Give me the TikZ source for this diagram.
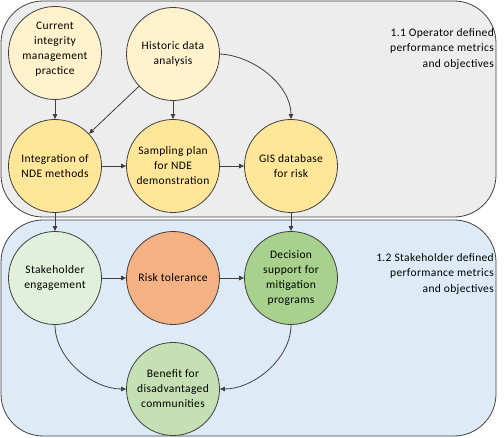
\documentclass[tikz,border=0pt]{standalone}
\usepackage{fontspec}
\setmainfont{Carlito}[LetterSpace=3]
\usetikzlibrary{arrows.meta}
\definecolor{regA}{HTML}{EDEDED}
\definecolor{regB}{HTML}{DEEBF7}
\definecolor{pale}{HTML}{FFF2CC}
\definecolor{gold}{HTML}{FFE699}
\definecolor{lgreen}{HTML}{E2EFDA}
\definecolor{orng}{HTML}{F4B183}
\definecolor{dgreen}{HTML}{A9D18E}
\definecolor{mgreen}{HTML}{C5E0B4}
\definecolor{edge}{HTML}{404040}
\begin{document}
\begin{tikzpicture}[x=1pt,y=1pt,
  circ/.style={circle,draw=edge,line width=0.8pt,minimum size=93pt,inner sep=0pt,align=center,font=\fontsize{11.5}{15}\selectfont},
  conn/.style={draw=edge,line width=0.8pt,-{Triangle[length=5pt,width=4.5pt]}},
  region/.style={draw=edge,line width=0.8pt,rounded corners=42pt},
  reglabel/.style={align=right,anchor=north east,inner sep=0pt,font=\fontsize{11.5}{15.5}\selectfont}]
\useasboundingbox (0,0) rectangle (504,-438);
\path[region,fill=regA] (1,-1) rectangle (496,-217);
\path[region,fill=regB] (1,-220) rectangle (496,-436);
\node[reglabel] (lab1) at (494,-28) {1.1 Operator defined\\performance metrics\\and objectives};
\node[reglabel] (lab2) at (494,-253) {1.2 Stakeholder defined\\performance metrics\\and objectives};
\node[circ,fill=pale] (cur) at (55,-53) {Current\\integrity\\management\\practice\\[-6pt]\mbox{}};
\node[circ,fill=pale] (hist) at (173,-54) {Historic data\\analysis};
\node[circ,fill=gold] (integ) at (55,-166) {Integration of\\NDE methods};
\node[circ,fill=gold] (samp) at (173,-166) {Sampling plan\\for NDE\\demonstration};
\node[circ,fill=gold] (gis) at (291,-166) {GIS database\\for risk};
\node[circ,fill=lgreen] (stake) at (55,-278) {Stakeholder\\engagement};
\node[circ,fill=orng] (risk) at (173,-278) {Risk tolerance};
\node[circ,fill=dgreen] (dec) at (291,-278) {Decision\\support for\\mitigation\\programs};
\node[circ,fill=mgreen] (ben) at (173,-389) {Benefit for\\disadvantaged\\communities};
\draw[conn] (cur) -- (integ);
\draw[conn] (hist) -- (integ);
\draw[conn] (hist) -- (samp);
\draw[conn] (hist.east) to[out=-3,in=90,looseness=0.9] (gis.north);
\draw[conn] (integ) -- (samp);
\draw[conn] (samp) -- (gis);
\draw[conn] (integ) -- (stake);
\draw[conn] (gis) -- (dec);
\draw[conn] (stake) -- (risk);
\draw[conn] (risk) -- (dec);
\draw[conn] (stake.south) to[out=-90,in=180,looseness=0.9] (ben.west);
\draw[conn] (dec.south) to[out=-90,in=0,looseness=0.9] (ben.east);
\end{tikzpicture}
\end{document}
